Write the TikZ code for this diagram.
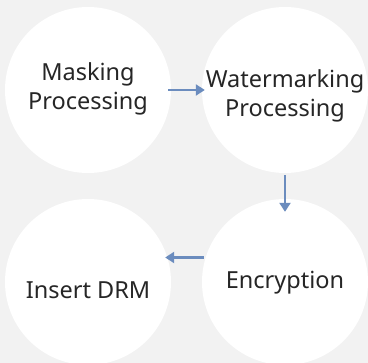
\documentclass[tikz,border=0pt]{standalone}
\usepackage{fontspec}
\setmainfont{Noto Sans}
\usetikzlibrary{arrows.meta}
\definecolor{bgray}{HTML}{F2F2F2}
\definecolor{flowblue}{HTML}{6B8CBE}
\tikzset{stage/.style={circle,fill=white,minimum size=166pt,inner sep=0pt},txt/.style={align=center,font=\fontsize{23.5}{29}\selectfont,text=black!85},flow/.style={-{Triangle[length=9pt,width=11pt]},line width=2.6pt,draw=flowblue}}

\begin{document}
\begin{tikzpicture}[x=1pt,y=-1pt]
\clip (0,0) rectangle (368,363);
\fill[bgray] (0,0) rectangle (368,363);
\node[stage,label={[txt,yshift=1pt]center:Masking\\Processing}] (mask) at (88,90) {};
\node[stage,label={[txt,yshift=-6pt]center:Watermarking\\Processing}] (wm) at (285,90) {};
\node[stage,label={[txt,yshift=-1pt]center:Encryption}] (enc) at (285,282) {};
\node[stage,label={[txt,yshift=-8pt]center:Insert DRM}] (drm) at (88,282) {};
\draw[flow,shorten <=-3pt,shorten >=-3pt] (mask.east) -- (wm.west);
\draw[flow,shorten <=2pt,shorten >=-13pt] (wm.south) -- (enc.north);
\draw[flow,shorten <=-2pt,shorten >=-6pt] ([yshift=24.5pt]enc.west) -- ([yshift=24.5pt]drm.east);
\end{tikzpicture}
\end{document}
